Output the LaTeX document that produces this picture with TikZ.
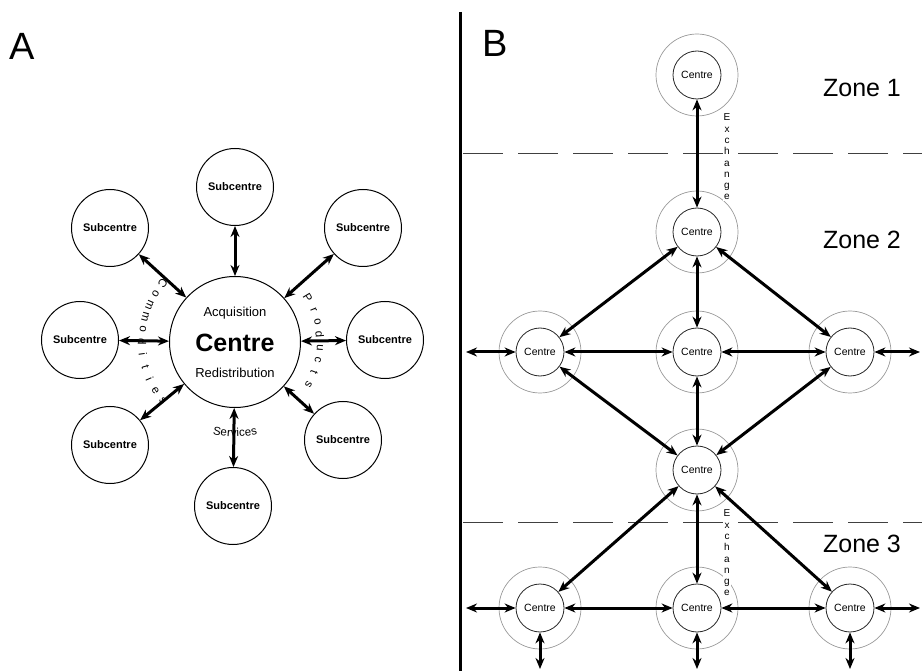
\documentclass[tikz,border=0pt]{standalone}
\usepackage{fontspec}
\setmainfont{Liberation Sans}
\usetikzlibrary{arrows.meta}

\begin{document}
\begin{tikzpicture}[x=1pt,y=1pt,
		sub/.style={draw,circle,line width=1pt,minimum size=77pt,inner sep=0pt,font=\fontsize{11}{13}\selectfont\bfseries},
		hub/.style={draw,circle,line width=1pt,minimum size=131pt,inner sep=0pt},
		ctr/.style={draw=black!85,circle,line width=0.8pt,minimum size=48pt,inner sep=0pt,font=\fontsize{10.5}{12}\selectfont},
		ring/.style={draw=black!40,line width=0.7pt},
		biarrow/.style={line width=3pt,{Stealth[length=11pt,width=9pt]}-{Stealth[length=11pt,width=9pt]}},
		arcletter/.style={inner sep=0pt,font=\fontsize{11.5}{13}\selectfont},
		zone/.style={font=\fontsize{25}{30}\selectfont},
		panel/.style={font=\fontsize{38}{44}\selectfont},
		boundary/.style={draw=black!75,line width=0.9pt,dash pattern=on 40pt off 15pt},
		exch/.style={fill=white,inner sep=1pt,align=center,font=\fontsize{10}{11.3}\selectfont}]
		\useasboundingbox (0,0) rectangle (922,-671);
		% panel A
		\node[panel] (lblA) at (22,-46) {A};
		\node[hub] (hub) at (235,-342) {};
		\node[font=\fontsize{13}{15}\selectfont] (acq) at (235,-313) {Acquisition};
		\node[font=\fontsize{25}{30}\selectfont\bfseries] (hubname) at (235,-343) {Centre};
		\node[font=\fontsize{13}{15}\selectfont] (redis) at (235,-373) {Redistribution};
		\foreach \n/\p in {N/{235,-187},NE/{363,-228},E/{385,-340},SE/{343,-440},S/{233,-506},SW/{110,-445},W/{80,-340},NW/{110,-228}}
			\node[sub] (sub\n) at (\p) {Subcentre};
		\foreach \n in {N,NE,E,SE,S,SW,W,NW}
			\draw[biarrow] (hub) -- (sub\n);
		% letters round the centre
		\foreach \ch [count=\i,evaluate=\i as \a using 141+7.8*(\i-1)] in {C,o,m,m,o,d,i,t,i,e,s}
			\node[arcletter,rotate=\a+90] (com\i) at ([shift={({\a}:93)}]hub.center) {\ch};
		\foreach \ch [count=\i,evaluate=\i as \a using 31-8.7*(\i-1)] in {P,r,o,d,u,c,t,s}
			\node[arcletter,rotate=\a-90] (pro\i) at ([shift={({\a}:85)}]hub.center) {\ch};
		\foreach \ch/\a [count=\i] in {S/-11.3,e/-7.0,r/-3.8,v/-0.8,i/1.8,c/4.4,e/8.2,s/12.0}
			\node[arcletter,rotate=\a,anchor=base] (ser\i) at ([shift={({270+\a}:95)}]hub.center) {\ch};
		% panel B
		\coordinate (divtop) at (460,-12);
		\coordinate (divbot) at (460,-671);
		\draw[line width=3pt] (divtop) -- (divbot);
		\node[panel] (lblB) at (495,-43) {B};
		\coordinate (b1l) at (463,-153);
		\coordinate (b1r) at (922,-153);
		\coordinate (b2l) at (463,-522);
		\coordinate (b2r) at (922,-522);
		\draw[boundary] (b1l) -- (b1r);
		\draw[boundary] (b2l) -- (b2r);
		\node[zone] (zone1) at (862,-88) {Zone 1};
		\node[zone] (zone2) at (862,-240) {Zone 2};
		\node[zone] (zone3) at (862,-544) {Zone 3};
		\foreach \n/\p in {z1/{697,-75},top/{697,-232},ml/{540,-352},mm/{697,-352},mr/{850,-352},low/{697,-470},bl/{540,-608},bm/{697,-608},br/{850,-608}}{
			\draw[ring] (\p) circle[radius=41];
			\node[ctr] (\n) at (\p) {Centre};
		}
		\foreach \a/\b in {z1/top,top/ml,top/mm,top/mr,ml/mm,mm/mr,low/ml,low/mm,low/mr,low/bl,low/bm,low/br,bl/bm,bm/br}
			\draw[biarrow] (\a) -- (\b);
		\coordinate (outL1) at (466,-352);
		\coordinate (outR1) at (920,-352);
		\coordinate (outL2) at (466,-608);
		\coordinate (outR2) at (920,-608);
		\coordinate (outBl) at (540,-669);
		\coordinate (outBm) at (697,-669);
		\coordinate (outBr) at (850,-669);
		\draw[biarrow] (outL1) -- (ml);
		\draw[biarrow] (mr) -- (outR1);
		\draw[biarrow] (outL2) -- (bl);
		\draw[biarrow] (br) -- (outR2);
		\foreach \n/\o in {bl/outBl,bm/outBm,br/outBr}
			\draw[biarrow] (\n) -- (\o);
		\node[exch] (exch1) at (727,-157) {E\\x\\c\\h\\a\\n\\g\\e};
		\node[exch] (exch2) at (727,-553) {E\\x\\c\\h\\a\\n\\g\\e};
	\end{tikzpicture}
\end{document}
